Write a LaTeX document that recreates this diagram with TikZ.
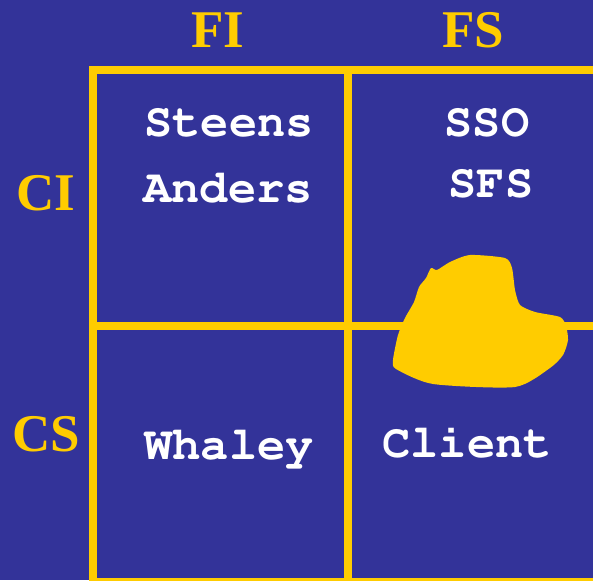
\documentclass[tikz,border=0pt]{standalone}
\usepackage[T1]{fontenc}
\usepackage{fontspec}
\usepackage{tikz}
\usetikzlibrary{positioning}

\newfontfamily\axisfont{Liberation Serif}
\newcommand{\cellfont}{\fontencoding{T1}\fontfamily{pcr}\fontseries{b}\selectfont}

\definecolor{slideblue}{RGB}{51,51,153}
\definecolor{slidegold}{RGB}{255,204,0}

\begin{document}
\begin{tikzpicture}[x=1pt, y=-1pt,
    axislabel/.style={text=slidegold, inner sep=0pt, anchor=base,
        font=\axisfont\bfseries\fontsize{53}{60}\selectfont},
    cell/.style={text=white, inner sep=0pt, anchor=base,
        font=\fontsize{47}{52}\cellfont},
    gridline/.style={slidegold, line width=8pt}]

            % Background
            \fill[slideblue] (0,0) rectangle (593,580);
            \useasboundingbox (0,0) rectangle (593,580);
            \clip (0,0) rectangle (593,580);

            % Grid
            \draw[gridline] (93,640) -- (93,70) -- (660,70);
            \draw[gridline] (348,70) -- (348,640);
            \draw[gridline] (93,326) -- (660,326);
            \draw[gridline] (93,582) -- (660,582);

            % Column and row labels
            \node[axislabel] (fi) at (218,48) {FI};
            \node[axislabel] (fs) at (473,48) {FS};
            \node[axislabel] (ci) at (46,210) {CI};
            \node[axislabel] (cs) at (46,451) {CS};

            % Cell entries
            \node[cell] (steens) at (229,137) {Steens};
            \node[cell] (anders) at (228,202) {Anders};
            \node[cell] (sso) at (487,137) {SSO};
            \node[cell] (sfs) at (491,197) {SFS};
            \node[cell] (whaley) at (229,459) {Whaley};
            \node[cell] (client) at (467,457) {Client};

            % Blob over the middle line
            \fill[slidegold] plot[smooth cycle, tension=0.4] coordinates {
                (431,268) (437,270) (450,262) (470,255) (505,258) (512,268)
                (515,290) (520,305) (535,312) (560,317) (566,326) (568,340)
                (563,355) (550,368) (515,387) (433,384) (396,369) (393,360)
                (398,335) (405,318) (414,302) (419,287) (426,278)};

\end{tikzpicture}
\end{document}
